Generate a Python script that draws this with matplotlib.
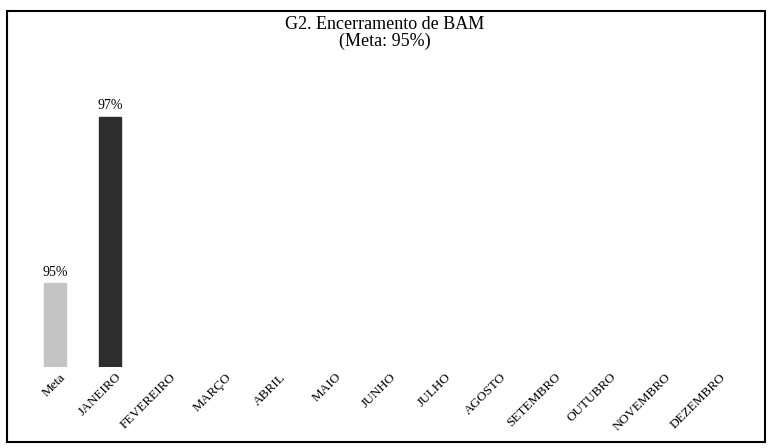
import matplotlib.pyplot as plt
from matplotlib.patches import Rectangle
from matplotlib.transforms import ScaledTranslation

categories = ["Meta", "JANEIRO", "FEVEREIRO", "MARÇO", "ABRIL", "MAIO", "JUNHO",
              "JULHO", "AGOSTO", "SETEMBRO", "OUTUBRO", "NOVEMBRO", "DEZEMBRO"]
values = [95, 97, None, None, None, None, None, None, None, None, None, None, None]
value_labels = ["95%", "97%"]
bar_colors = ["#c4c4c4", "#2e2e2e"]

plt.rcParams['font.family'] = ['Liberation Serif', 'DejaVu Serif']

fig = plt.figure(figsize=(7.7, 4.48), dpi=100)
ax = fig.add_axes([0.0357, 0.181, 0.9286, 0.652])

x = list(range(len(categories)))
for i, v in enumerate(values):
    if v is None:
        continue
    ax.bar(i, v, width=0.4, color=bar_colors[i], edgecolor=bar_colors[i], bottom=0)
    ax.text(i, v + 0.05, value_labels[i], ha='center', va='bottom', fontsize=10)

ax.set_xlim(-0.5, len(categories) - 0.5)
ax.set_ylim(94, 97.5)
ax.set_xticks(x)
ax.set_xticklabels(categories, rotation=45, ha='right', rotation_mode='anchor', fontsize=9.5)
ax.tick_params(axis='x', length=0, pad=3)
# desloca um pouco os rótulos para a direita, como no original
offset = ScaledTranslation(5 / 100, 0, fig.dpi_scale_trans)
for lbl in ax.get_xticklabels():
    lbl.set_transform(lbl.get_transform() + offset)
ax.set_yticks([])
for s in ax.spines.values():
    s.set_visible(False)

fig.text(0.5, 0.965, "G2. Encerramento de BAM\n(Meta: 95%)", ha='center', va='top',
         fontsize=13, linespacing=1.0)

# moldura
fig.patches.append(Rectangle((0.009, 0.014), 0.985, 0.962, transform=fig.transFigure,
                             fill=False, edgecolor='black', linewidth=1.5))

fig.savefig("out.png", dpi=100)
